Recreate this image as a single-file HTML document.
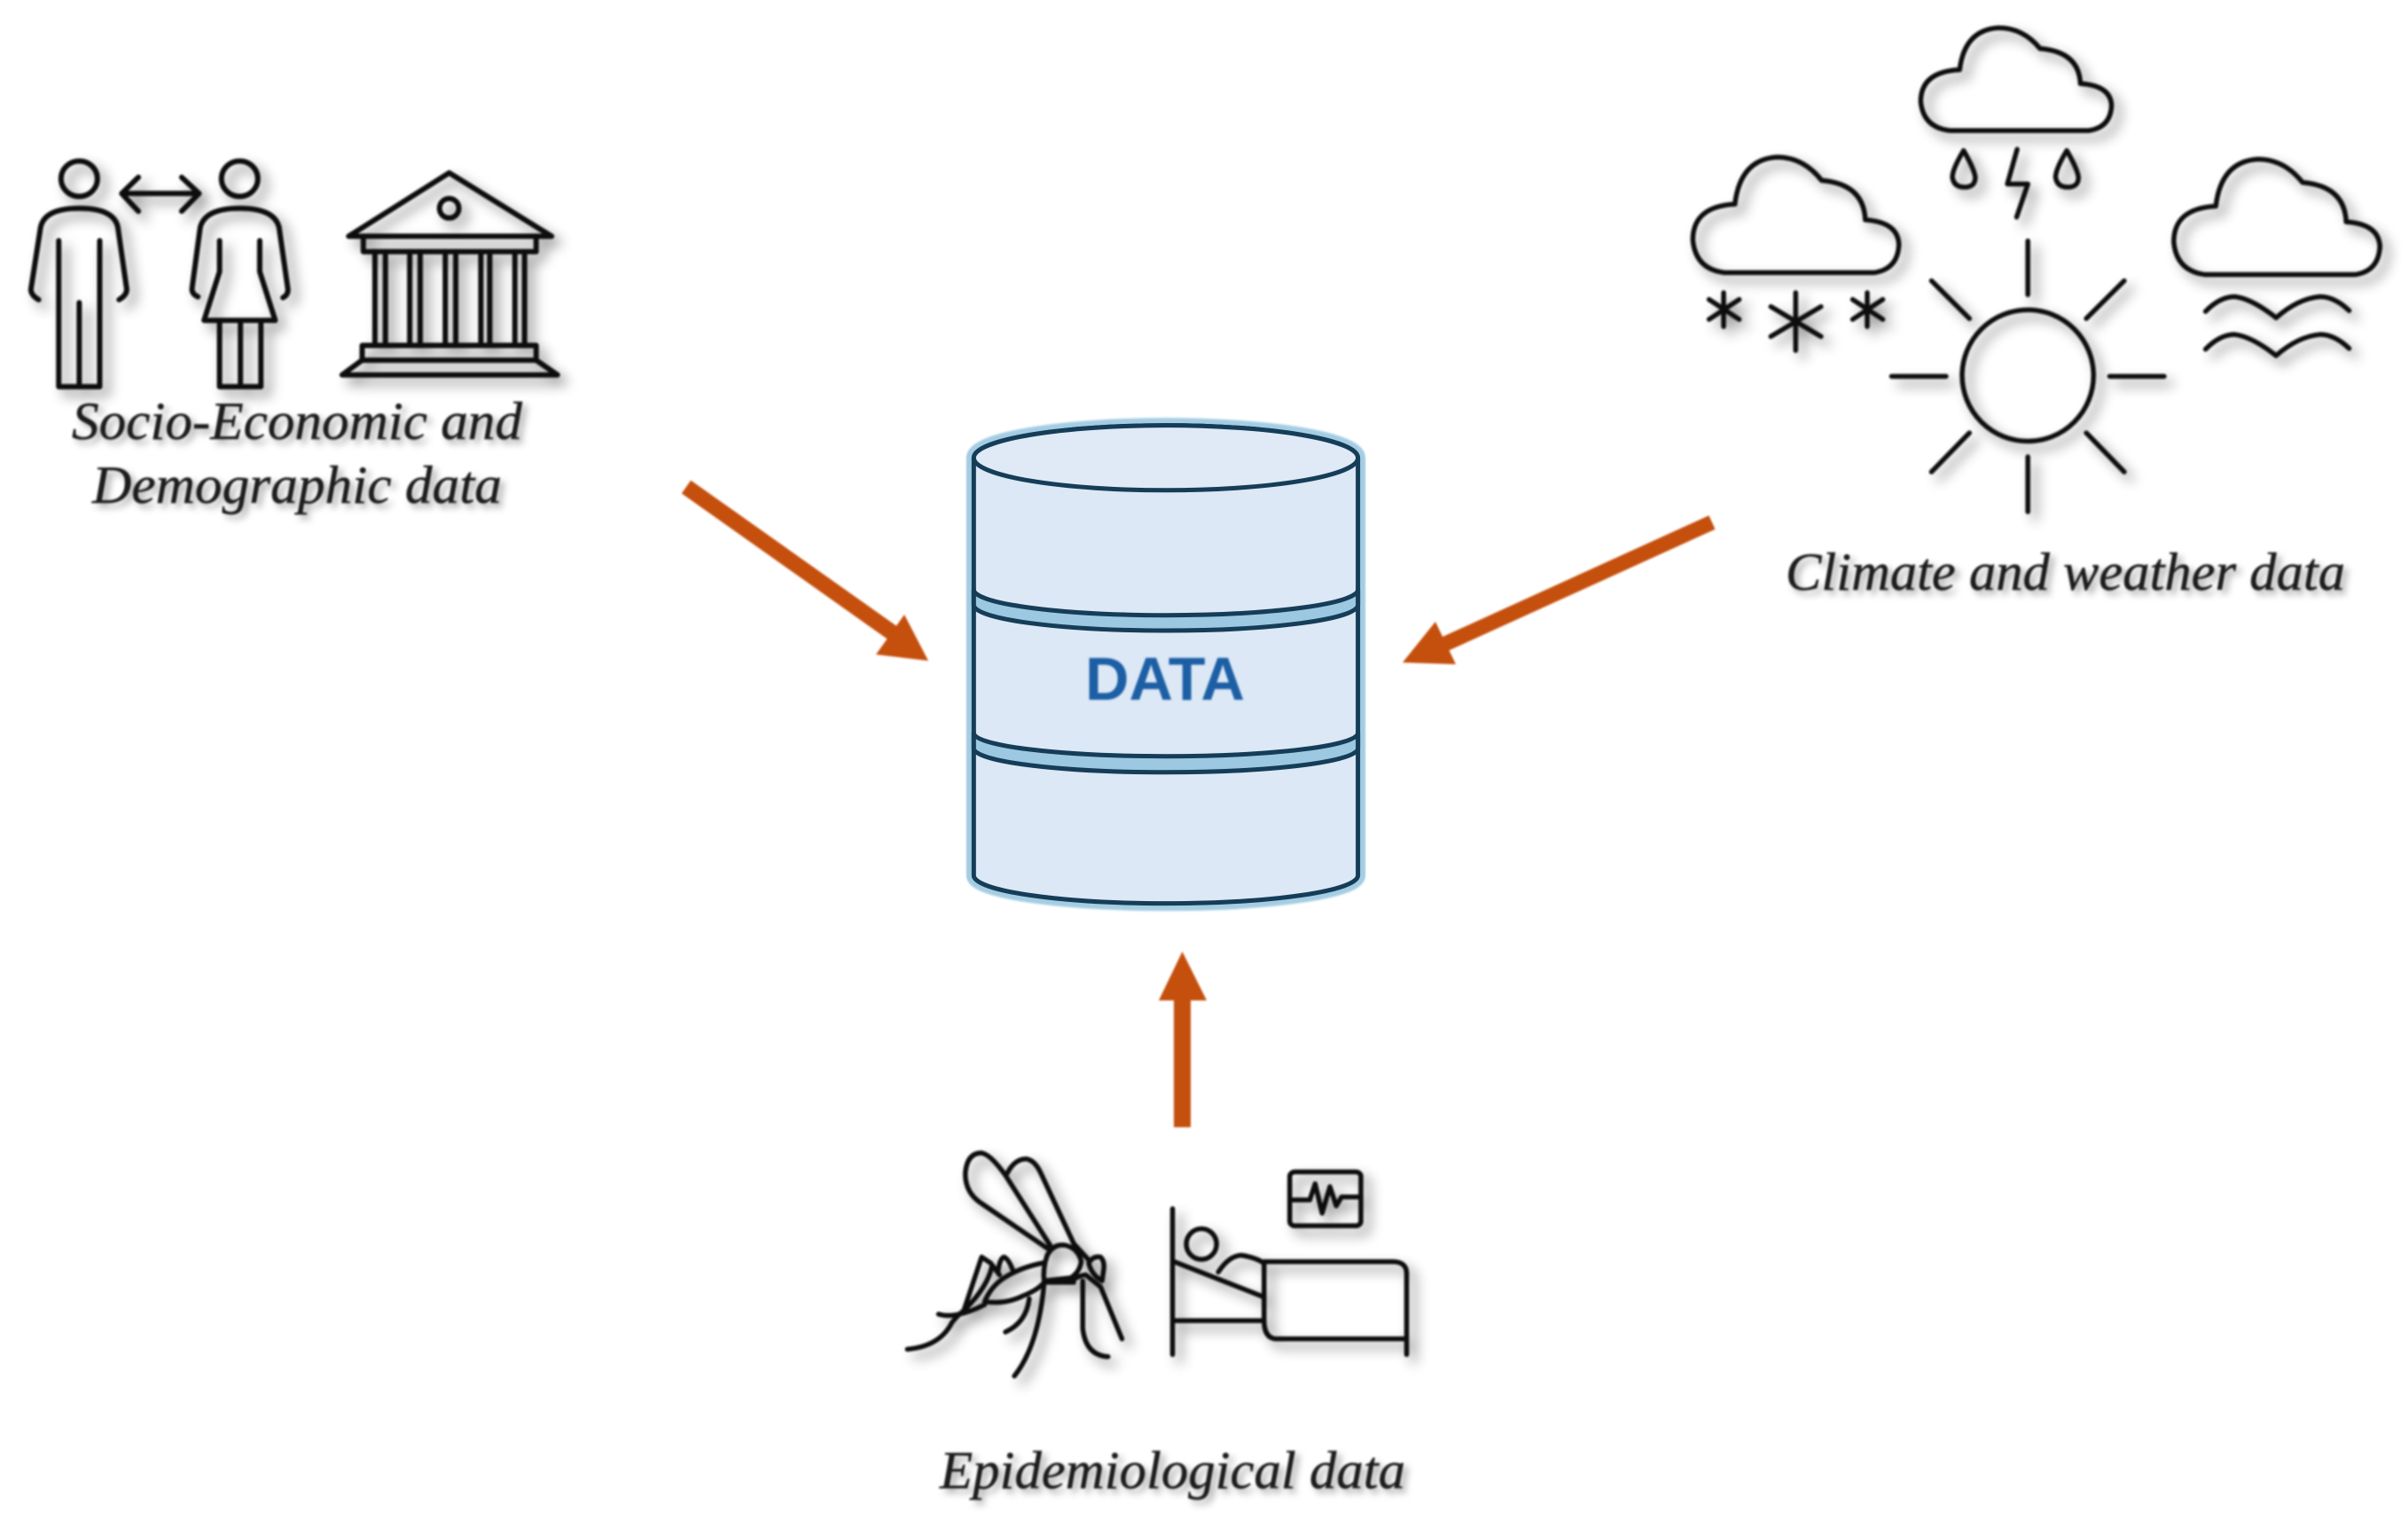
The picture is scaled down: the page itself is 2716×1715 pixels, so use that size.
<!DOCTYPE html>
<html>
<head>
<meta charset="utf-8">
<title>Data sources diagram</title>
<style>
html,body{margin:0;padding:0;background:#fff;width:2716px;height:1715px;overflow:hidden}
svg{display:block}
.i path,.i ellipse,.i rect,.i line{fill:none;stroke:#111;stroke-width:6;stroke-linecap:round;stroke-linejoin:round;vector-effect:non-scaling-stroke}
.w path,.w ellipse,.w line,.w rect{stroke-width:5.5}
.c path,.c ellipse{vector-effect:non-scaling-stroke;stroke-linejoin:round}
.t{font-family:"Liberation Serif",serif;font-style:italic;fill:#1c1c1c;stroke:#1c1c1c;stroke-width:.5}
</style>
</head>
<body>
<svg xmlns="http://www.w3.org/2000/svg" width="2716" height="1715" viewBox="0 0 2716 1715">
<defs>
<filter id="s" x="-10%" y="-10%" width="125%" height="125%" filterUnits="objectBoundingBox">
  <feGaussianBlur in="SourceGraphic" stdDeviation="1.1" result="a"/>
  <feDropShadow in="a" dx="8" dy="8" stdDeviation="7" flood-color="#000" flood-opacity="0.45"/>
</filter>
<filter id="ts" x="-5%" y="-20%" width="110%" height="150%">
  <feGaussianBlur in="SourceGraphic" stdDeviation="1" result="a"/>
  <feDropShadow in="a" dx="5" dy="5" stdDeviation="4" flood-color="#000" flood-opacity="0.35"/>
</filter>
<filter id="soft" x="-5%" y="-5%" width="110%" height="110%">
  <feGaussianBlur stdDeviation="1"/>
</filter>
<filter id="halo" x="-5%" y="-5%" width="110%" height="110%">
  <feGaussianBlur stdDeviation="2.5"/>
</filter>
</defs>

<!-- Cylinder -->
<g class="c" transform="translate(1060,450) scale(.3333,.385)">
  <g filter="url(#halo)">
    <path d="M115 172A650 95 0 0 1 1415 172V1395A650 82 0 0 1 115 1395Z" fill="#a4cde3" stroke="#a4cde3" stroke-width="17"/>
    <path d="M90 580H1440M90 1000H1440" fill="none" stroke="#a4cde3" stroke-width="12"/>
  </g>
  <g filter="url(#soft)">
    <path d="M115 172A650 95 0 0 1 1415 172V1395A650 82 0 0 1 115 1395Z" fill="#dce8f5" stroke="#123c58" stroke-width="5"/>
    <ellipse cx="765" cy="172" rx="650" ry="95" fill="#dfeaf6" stroke="#123c58" stroke-width="5"/>
    <path d="M115 558A650 75 0 0 0 1415 558V603A650 75 0 0 1 115 603Z" fill="#9cc8e2" stroke="#123c58" stroke-width="5"/>
    <path d="M115 978A650 68 0 0 0 1415 978V1023A650 70 0 0 1 115 1023Z" fill="#9cc8e2" stroke="#123c58" stroke-width="5"/>
  </g>
</g>
<text x="1224" y="789" font-family="'Liberation Sans',sans-serif" font-weight="bold" font-size="69" fill="#1f5fa5" textLength="180" lengthAdjust="spacingAndGlyphs" filter="url(#soft)">DATA</text>

<!-- Arrows -->
<g fill="#c5500f" stroke="none" filter="url(#soft)">
  <path d="M774 549L1010 716" stroke="#c5500f" stroke-width="18" fill="none"/>
  <polygon points="1047,745 988,738 1020,693"/>
  <path d="M1931 589L1630 726" stroke="#c5500f" stroke-width="17" fill="none"/>
  <polygon points="1582,747 1642,749 1619,701"/>
  <path d="M1333.5 1271V1125" stroke="#c5500f" stroke-width="19" fill="none"/>
  <polygon points="1333.5,1073 1307,1128 1361,1128"/>
</g>

<!-- People and building -->
<g filter="url(#s)">
<g class="i" transform="translate(0,150) scale(.436,.3326)">
  <ellipse cx="205" cy="155" rx="47" ry="60"/>
  <path d="M100 565Q80 550 80 530L105 320Q115 255 205 255Q295 255 305 320L328 530Q328 550 308 565"/>
  <path d="M152 365V860H258V365M205 575V860"/>
  <ellipse cx="620" cy="155" rx="47" ry="60"/>
  <path d="M512 555Q495 545 497 525L518 320Q530 255 620 255Q710 255 722 320L745 530Q745 550 732 558"/>
  <path d="M568 365V470L528 635H712L672 470V365M568 635V860H675V635M622 635V860"/>
  <path d="M315 205H515M358 150L315 205L358 265M470 150L515 205L470 265"/>
  <g transform="translate(-8,0)">
  <path d="M1170 135L910 350H1435Z"/>
  <ellipse cx="1170" cy="255" rx="25" ry="33"/>
  <path d="M948 350V402H1395V350"/>
  <path d="M978 402V720M1005 402V720M1068 402V720M1095 402V720M1160 402V720M1187 402V720M1252 402V720M1275 402V720M1340 402V720M1365 402V720"/>
  <path d="M945 720H1395V770H945ZM945 770L893 820H1450L1395 770"/>
  </g>
</g>
</g>

<!-- Weather -->
<g filter="url(#s)">
<g class="i w" transform="translate(1859,0) scale(.549,.449)">
  <path d="M620 328H905Q950 320 952 265Q950 215 888 210Q885 130 805 122Q770 70 720 70Q650 75 640 175Q560 180 560 255Q565 320 620 328Z"/>
  <path transform="translate(-513,316) scale(1.08,1.124)" d="M620 328H905Q950 320 952 265Q950 215 888 210Q885 130 805 122Q770 70 720 70Q650 75 640 175Q560 180 560 255Q565 320 620 328Z"/>
  <path transform="translate(475,321) scale(1.08,1.124)" d="M620 328H905Q950 320 952 265Q950 215 888 210Q885 130 805 122Q770 70 720 70Q650 75 640 175Q560 180 560 255Q565 320 620 328Z"/>
  <path d="M648 378Q625 425 625 445Q628 470 650 470Q672 470 672 445Q670 425 648 378Z"/>
  <path d="M860 378Q837 425 837 445Q840 470 862 470Q884 470 884 445Q882 425 860 378Z"/>
  <path d="M758 375L738 462H780L757 545"/>
  <path d="M155 735V820M125 752L187 802M187 752L125 802"/>
  <path d="M303 735V880M252 770L355 845M355 770L252 845"/>
  <path d="M450 735V820M420 752L482 802M482 752L420 802"/>
  <path d="M1145 782Q1175 745 1205 745Q1240 750 1290 798Q1335 750 1380 745Q1410 745 1440 780"/>
  <path d="M1145 877Q1175 840 1205 840Q1240 845 1290 893Q1335 845 1380 840Q1410 840 1440 875"/>
  <ellipse cx="780" cy="943" rx="135" ry="165"/>
  <path d="M780 605V740M780 1147V1285M500 945H612M948 945H1060M582 705L660 800M978 705L900 800M660 1087L582 1185M900 1087L978 1185"/>
</g>
</g>

<!-- Mosquito and bed -->
<g filter="url(#s)">
<g class="i w" transform="translate(1010,1290) scale(.3353,.3353)">
  <path d="M510 350L290 200Q235 165 235 100Q240 30 290 30Q320 35 370 105L520 340"/>
  <path d="M375 100Q400 50 440 50Q470 55 490 100L600 335L650 390"/>
  <path d="M510 375Q530 335 570 340Q615 350 625 395Q620 430 590 450L500 460Q495 420 510 375Z"/>
  <path d="M650 400Q665 375 690 380Q705 395 700 425L695 460Q660 440 650 400Z"/>
  <path d="M600 455Q625 440 640 440L690 480L762 655"/>
  <path d="M495 400Q420 415 365 450Q320 480 300 530Q370 540 430 510Q480 490 500 465"/>
  <path d="M40 690Q150 680 190 600Q215 570 230 560L290 380L320 400L350 440M345 430Q350 385 365 380Q380 385 395 425"/>
  <path d="M325 410Q310 480 235 555"/>
  <path d="M145 572Q200 590 300 540"/>
  <path d="M370 632Q440 600 450 520"/>
  <path d="M400 780Q480 680 500 470"/>
  <path d="M715 715Q640 710 630 620V460"/>
  <path d="M500 465H600"/>
</g>
<g class="i w" transform="translate(999,1260) scale(.397,.332)">
  <path d="M815 310V805M820 490L1075 610M820 690H1075M1075 490V690Q1075 750 1110 752H1478M1075 490H1440Q1480 490 1480 530V805"/>
  <ellipse cx="897" cy="430" rx="43" ry="52"/>
  <path d="M945 525Q975 470 1010 468Q1050 475 1075 495"/>
  <rect x="1148" y="185" width="202" height="183" rx="15" ry="15"/>
  <path d="M1150 280H1205L1220 225L1240 325L1262 235L1280 300L1295 270H1350"/>
</g>
</g>

<!-- Labels -->
<text class="t" x="81" y="495" font-size="60" textLength="508" lengthAdjust="spacingAndGlyphs" filter="url(#ts)">Socio-Economic and</text>
<text class="t" x="104" y="567" font-size="60" textLength="462" lengthAdjust="spacingAndGlyphs" filter="url(#ts)">Demographic data</text>
<text class="t" x="2014" y="665" font-size="60" textLength="631" lengthAdjust="spacingAndGlyphs" filter="url(#ts)">Climate and weather data</text>
<text class="t" x="1060" y="1678" font-size="60" textLength="525" lengthAdjust="spacingAndGlyphs" filter="url(#ts)">Epidemiological data</text>
</svg>
</body>
</html>
